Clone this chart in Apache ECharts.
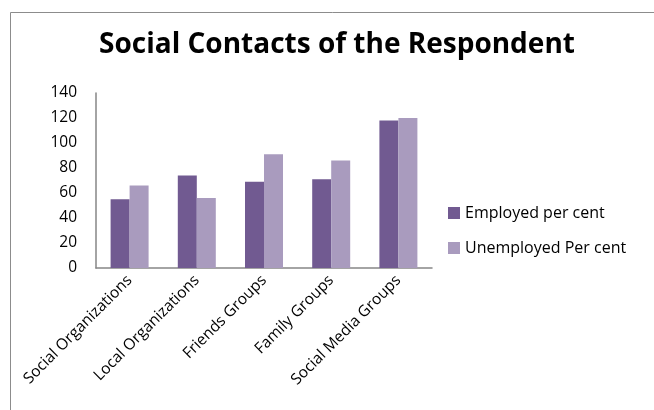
<!DOCTYPE html>
<html>
<head>
    <meta charset="utf-8">
    <title>Social Contacts</title>
    <script src="https://cdn.jsdelivr.net/npm/echarts@6/dist/echarts.min.js"></script>
    <style>
        html, body { margin: 0; padding: 0; background: #fff; }
        #main { width: 654px; height: 410px; }
    </style>
</head>
<body>
    <div id="main"></div>
    <script type="text/javascript">
        // data
        var groups = ['Social Organizations', 'Local Organizations', 'Friends Groups', 'Family Groups', 'Social Media Groups'];
        var employed = [55, 74, 69, 71, 118];
        var unemployed = [66, 56, 91, 86, 120];
        var seriesNames = ['Employed per cent', 'Unemployed Per cent'];
        var yTicks = { min: 0, max: 140, interval: 20 };

        var color1 = '#715A91';
        var color2 = '#A99BBE';
        var font = 'Open Sans, sans-serif';

        var myChart = echarts.init(document.getElementById('main'));

        var option = {
            animation: false,
            backgroundColor: '#fff',
            title: {
                text: 'Social Contacts of the Respondent',
                left: 332,
                top: 26,
                textAlign: 'center',
                textStyle: { fontFamily: font, fontSize: 28, fontWeight: 'bold', color: '#000' }
            },
            legend: {
                data: seriesNames,
                orient: 'vertical',
                left: 443,
                top: 200,
                itemWidth: 12,
                itemHeight: 12,
                itemGap: 19,
                icon: 'rect',
                textStyle: { fontFamily: font, fontSize: 16, color: '#000' }
            },
            grid: { left: 96, top: 93, width: 336, height: 175, containLabel: false },
            xAxis: {
                type: 'category',
                data: groups,
                axisLine: { lineStyle: { color: '#868686', width: 1.5 } },
                axisTick: { show: false },
                axisLabel: {
                    rotate: 45,
                    interval: 0,
                    margin: 10,
                    fontFamily: font,
                    fontSize: 15.5,
                    color: '#000'
                }
            },
            yAxis: {
                type: 'value',
                min: yTicks.min,
                max: yTicks.max,
                interval: yTicks.interval,
                axisLine: { show: true, lineStyle: { color: '#868686', width: 1.5 } },
                axisTick: { show: false },
                splitLine: { show: false },
                axisLabel: { fontFamily: font, fontSize: 15.5, color: '#000', margin: 19 }
            },
            series: [{
                name: seriesNames[0],
                type: 'bar',
                data: employed,
                barWidth: 19,
                barGap: '0%',
                itemStyle: { color: color1 }
            }, {
                name: seriesNames[1],
                type: 'bar',
                data: unemployed,
                barWidth: 19,
                itemStyle: { color: color2 }
            }],
            graphic: [{
                type: 'polyline',
                shape: { points: [[10.5, 410], [10.5, 12.5], [654, 12.5]] },
                style: { stroke: '#8c8c8c', lineWidth: 1, fill: null },
                silent: true
            }]
        };

        myChart.setOption(option);
    </script>
</body>
</html>
